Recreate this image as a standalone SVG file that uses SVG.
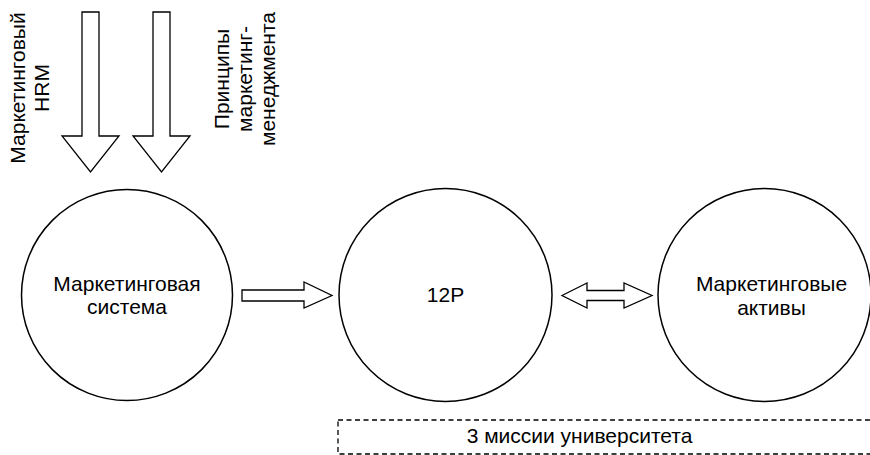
<svg xmlns="http://www.w3.org/2000/svg" width="870" height="455" viewBox="0 0 870 455">
<style>
.n{fill:#fff;stroke:#000;stroke-width:1.5}
.a{fill:#fff;stroke:#000;stroke-width:1.3;stroke-linejoin:miter}
.t{font-family:"Liberation Sans",Arial,sans-serif;font-size:21px;fill:#000;text-anchor:middle}
.d{fill:none;stroke:#000;stroke-width:1.3;stroke-dasharray:5,3.5}
</style>
<rect width="870" height="455" fill="#fff"/>
<g id="connectors">
<polygon class="a" points="82,12 99,12 99,136 119,136 90.5,172 62,136 82,136"/>
<polygon class="a" points="153,12 170,12 170,136 190,136 161.5,172 133,136 153,136"/>
<polygon class="a" points="242,290 304,290 304,282 332,295.5 304,308 304,301 242,301"/>
<polygon class="a" points="562,295.5 587,283 587,290.5 624,290.5 624,283 652,295.5 624,308 624,300.5 587,300.5 587,308"/>
</g>
<g id="label-hrm">
<text class="t" transform="translate(25,88) rotate(-90)"><tspan x="0" y="0">Маркетинговый</tspan><tspan x="0" y="24">HRM</tspan></text>
</g>
<g id="label-principles">
<text class="t" transform="translate(229,79) rotate(-90)"><tspan x="0" y="0">Принципы</tspan><tspan x="0" y="23">маркетинг-</tspan><tspan x="0" y="46">менеджмента</tspan></text>
</g>
<g id="node-system">
<circle class="n" cx="127" cy="295" r="105.5"/>
<text class="t"><tspan x="127" y="291">Маркетинговая</tspan><tspan x="127" y="314">система</tspan></text>
</g>
<g id="node-12p">
<circle class="n" cx="445.5" cy="295" r="106.5"/>
<text class="t" x="445.5" y="302">12P</text>
</g>
<g id="node-assets">
<circle class="n" cx="764.5" cy="295" r="106.5"/>
<text class="t"><tspan x="771.5" y="291">Маркетинговые</tspan><tspan x="771.5" y="315">активы</tspan></text>
</g>
<g id="node-missions">
<rect class="d" x="338" y="420" width="560" height="34"/>
<text class="t" x="579.5" y="443">3 миссии университета</text>
</g>
</svg>
